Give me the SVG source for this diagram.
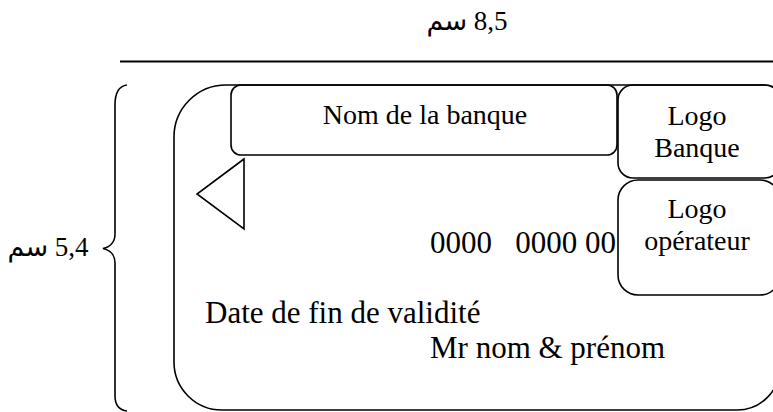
<svg xmlns="http://www.w3.org/2000/svg" width="773" height="412" viewBox="0 0 773 412">
<style>
.s{fill:none;stroke:#000;stroke-width:1.6}
.t{font-family:"Liberation Serif","DejaVu Sans",serif;fill:#000}
.m{font-size:28px;text-anchor:middle}
.b{font-size:31px}
.ar{font-size:27px;text-anchor:middle;direction:rtl;unicode-bidi:embed}
</style>
<rect width="773" height="412" fill="#fff"/>
<g id="dim-width">
<line x1="120" y1="61.5" x2="773" y2="61.5" stroke="#000" stroke-width="2"/>
<text class="t ar" x="467" y="30">8,5 سم</text>
</g>
<g id="dim-height">
<path class="s" d="M127,85 C119,86 115,93 115,105 L115,234 C115,242 110,247 103,248.5 C110,250 115,255 115,263 L115,396 C115,405 119,410 127,411"/>
<text class="t ar" x="48" y="256">5,4 سم</text>
</g>
<g id="card">
<path class="s" d="M226,85 L764,85 Q780,85 780,101 L780,367 A43,43 0 0 1 737,410 L222,410 A48,48 0 0 1 174,362 L174,137 A52,52 0 0 1 226,85 Z"/>
</g>
<g id="bank-name">
<rect class="s" x="231" y="85" width="386" height="70" rx="10" ry="10"/>
<text class="t m" x="425" y="124">Nom de la banque</text>
</g>
<g id="logo-bank">
<rect class="s" x="618" y="85" width="162" height="93" rx="15" ry="15"/>
<text class="t m" x="697" y="125">Logo</text>
<text class="t m" x="697" y="157">Banque</text>
</g>
<g id="logo-operator">
<rect class="s" x="618" y="180" width="162" height="115" rx="20" ry="20"/>
<text class="t m" x="697" y="218">Logo</text>
<text class="t m" x="697" y="250">opérateur</text>
</g>
<g id="arrow">
<polygon class="s" points="244,159 197,194 244,229"/>
</g>
<g id="card-number">
<text class="t b" x="430" y="253" xml:space="preserve">0000   0000 00</text>
</g>
<g id="expiry">
<text class="t b" x="205" y="323">Date de fin de validité</text>
</g>
<g id="holder">
<text class="t b" x="430" y="358">Mr nom &amp; prénom</text>
</g>
</svg>
